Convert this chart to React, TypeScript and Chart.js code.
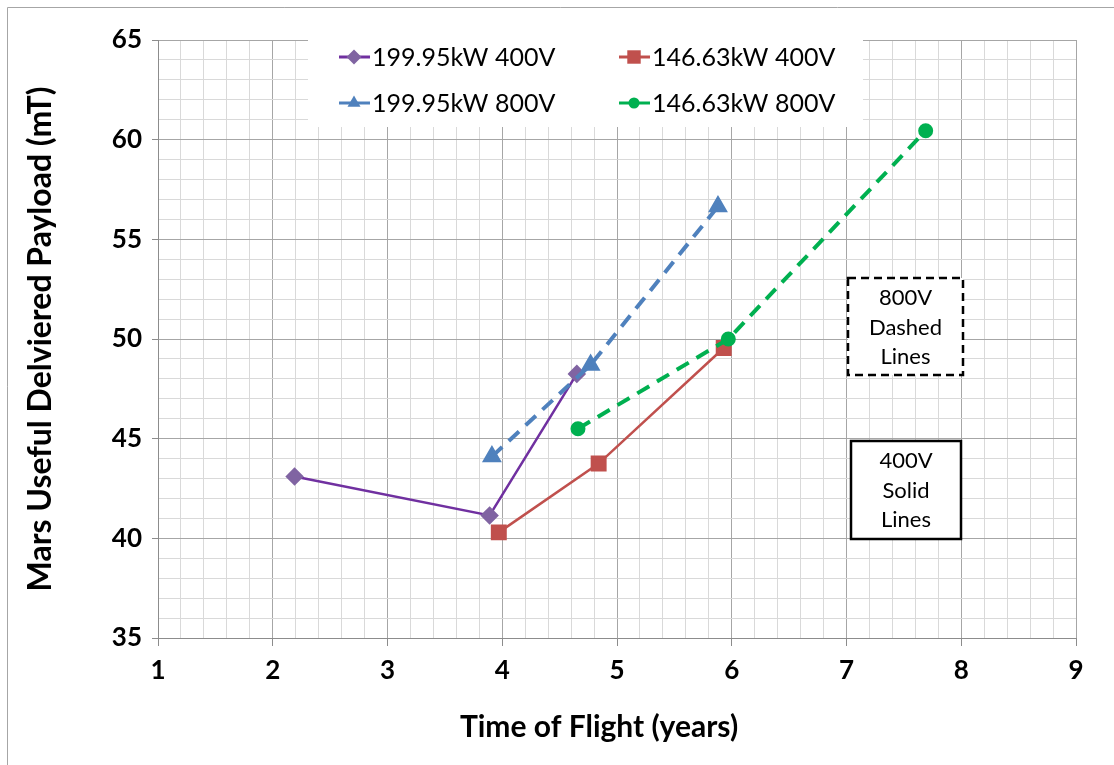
import React, { useEffect, useRef } from 'react';
import { Chart, registerables } from 'chart.js';

Chart.register(...registerables);

// ---- data ----
const seriesLabels = ['199.95kW 400V', '146.63kW 400V', '199.95kW 800V', '146.63kW 800V'];
const s1X = [2.19, 3.89, 4.65];
const s1Y = [43.1, 41.15, 48.25];
const s2X = [3.97, 4.84, 5.93];
const s2Y = [40.3, 43.75, 49.55];
const s3X = [3.91, 4.77, 5.88];
const s3Y = [44.1, 48.7, 56.65];
const s4X = [4.66, 5.97, 7.69];
const s4Y = [45.5, 50.0, 60.45];

const xMajorTicks = [1, 2, 3, 4, 5, 6, 7, 8, 9];
const yMajorTicks = [35, 40, 45, 50, 55, 60, 65];

const xTitle = 'Time of Flight (years)';
const yTitle = 'Mars Useful Delviered Payload (mT)';
const note800 = ['800V', 'Dashed', 'Lines'];
const note400 = ['400V', 'Solid', 'Lines'];

const FONT = 'Lato';

const pts = (xs: number[], ys: number[]) => xs.map((x, i) => ({ x, y: ys[i] }));
const isMajor = (v: number, list: number[]) => list.some((m) => Math.abs(m - v) < 1e-6);

function marker(ctx: CanvasRenderingContext2D, style: string, r: number, x: number, y: number, color: string) {
  ctx.fillStyle = color;
  ctx.beginPath();
  if (style === 'rectRot') {
    ctx.moveTo(x, y - r);
    ctx.lineTo(x + r, y);
    ctx.lineTo(x, y + r);
    ctx.lineTo(x - r, y);
    ctx.closePath();
  } else if (style === 'rect') {
    const s = r * Math.SQRT1_2;
    ctx.rect(x - s, y - s, 2 * s, 2 * s);
  } else if (style === 'triangle') {
    const w = (r * Math.sqrt(3)) / 2;
    ctx.moveTo(x, y - r);
    ctx.lineTo(x + w, y + r / 2);
    ctx.lineTo(x - w, y + r / 2);
    ctx.closePath();
  } else {
    ctx.arc(x, y, r, 0, Math.PI * 2);
  }
  ctx.fill();
}

const decorPlugin = {
  id: 'decor',
  beforeDraw(chart: any) {
    const { ctx, width, height } = chart;
    ctx.save();
    ctx.fillStyle = '#ffffff';
    ctx.fillRect(0, 0, width, height);
    ctx.strokeStyle = '#a6a6a6';
    ctx.lineWidth = 1;
    ctx.beginPath();
    ctx.moveTo(7.5, height);
    ctx.lineTo(7.5, 7.5);
    ctx.lineTo(width, 7.5);
    ctx.stroke();
    ctx.restore();
  },
  afterDatasetsDraw(chart: any) {
    const { ctx } = chart;
    ctx.save();
    // x axis title
    ctx.fillStyle = '#000';
    ctx.font = `bold 30px ${FONT}`;
    ctx.textAlign = 'center';
    ctx.textBaseline = 'middle';
    ctx.fillText(xTitle, 599, 727);

    // legend box
    ctx.fillStyle = '#ffffff';
    ctx.fillRect(308, 36, 555, 91);
    const cols = [354, 634];
    const rows = [57, 103];
    chart.data.datasets.forEach((ds: any, i: number) => {
      const cx = cols[i % 2];
      const cy = rows[Math.floor(i / 2)];
      ctx.strokeStyle = ds.borderColor;
      ctx.lineWidth = 3;
      ctx.setLineDash([]);
      ctx.beginPath();
      ctx.moveTo(cx - 15, cy);
      ctx.lineTo(cx + 16, cy);
      ctx.stroke();
      marker(ctx, ds.pointStyle, ds.pointRadius, cx, cy, ds.pointBackgroundColor);
      ctx.fillStyle = '#000';
      ctx.font = `25px ${FONT}`;
      ctx.textBaseline = 'middle';
      ctx.textAlign = 'left';
      ctx.fillText(ds.label, cx + 18, cy + 1);
    });

    // note boxes
    const drawNote = (x: number, y: number, w: number, h: number, lines: string[], dashed: boolean) => {
      ctx.fillStyle = '#ffffff';
      ctx.fillRect(x, y, w, h);
      ctx.strokeStyle = '#000';
      ctx.lineWidth = 2.5;
      ctx.setLineDash(dashed ? [8, 5] : []);
      ctx.strokeRect(x, y, w, h);
      ctx.setLineDash([]);
      ctx.fillStyle = '#000';
      ctx.font = `22px ${FONT}`;
      ctx.textAlign = 'center';
      ctx.textBaseline = 'middle';
      lines.forEach((t, k) => ctx.fillText(t, x + w / 2, y + 20 + k * 29.5));
    };
    drawNote(848, 278, 115, 97, note800, true);
    drawNote(851, 441, 110, 98, note400, false);
    ctx.restore();
  },
};

export default function App() {
  const ref = useRef<HTMLCanvasElement | null>(null);
  useEffect(() => {
    if (!ref.current) return;
    const chart = new Chart(ref.current, {
      type: 'line',
      data: {
        datasets: [
          {
            label: seriesLabels[0],
            data: pts(s1X, s1Y),
            borderColor: '#7030A0',
            backgroundColor: '#8064A2',
            pointBackgroundColor: '#8064A2',
            pointBorderColor: '#8064A2',
            pointStyle: 'rectRot',
            pointRadius: 7.5,
            borderWidth: 2.5,
            order: 4,
          },
          {
            label: seriesLabels[1],
            data: pts(s2X, s2Y),
            borderColor: '#C0504D',
            backgroundColor: '#C0504D',
            pointBackgroundColor: '#C0504D',
            pointBorderColor: '#C0504D',
            pointStyle: 'rect',
            pointRadius: 9.5,
            borderWidth: 2.5,
            order: 3,
          },
          {
            label: seriesLabels[2],
            data: pts(s3X, s3Y),
            borderColor: '#4F81BD',
            backgroundColor: '#4F81BD',
            pointBackgroundColor: '#4F81BD',
            pointBorderColor: '#4F81BD',
            pointStyle: 'triangle',
            pointRadius: 7.5,
            borderWidth: 4,
            borderDash: [14, 9],
            order: 2,
          },
          {
            label: seriesLabels[3],
            data: pts(s4X, s4Y),
            borderColor: '#00B050',
            backgroundColor: '#00B050',
            pointBackgroundColor: '#00B050',
            pointBorderColor: '#00B050',
            pointStyle: 'circle',
            pointRadius: 5.5,
            borderWidth: 4,
            borderDash: [14, 9],
            order: 1,
          },
        ],
      },
      options: {
        responsive: false,
        animation: false,
        devicePixelRatio: 1,
        layout: { padding: { top: 40, right: 38, left: 0, bottom: 0 } },
        plugins: {
          legend: { display: false },
          tooltip: { enabled: false },
        },
        elements: { line: { tension: 0 } },
        scales: {
          x: {
            type: 'linear',
            min: 1,
            max: 9,
            afterFit: (s: any) => {
              s.height = 127;
            },
            ticks: {
              stepSize: 0.2,
              autoSkip: false,
              maxRotation: 0,
              padding: 9,
              color: '#000',
              font: { family: FONT, size: 26, weight: 'bold' },
              callback: (v: any) => {
                const n = Number(v);
                return isMajor(n, xMajorTicks) ? String(Math.round(n)) : '';
              },
            },
            grid: {
              color: (c: any) => (isMajor(c.tick.value, xMajorTicks) ? '#a6a6a6' : '#d9d9d9'),
              tickColor: (c: any) => (isMajor(c.tick.value, xMajorTicks) ? '#8c8c8c' : 'rgba(0,0,0,0)'),
              tickLength: 8,
              lineWidth: 1,
            },
            border: { display: true, color: '#8c8c8c', width: 1 },
            title: { display: false },
          },
          y: {
            type: 'linear',
            min: 35,
            max: 65,
            afterFit: (s: any) => {
              s.width = 158;
            },
            ticks: {
              stepSize: 1,
              autoSkip: false,
              padding: 10,
              color: '#000',
              font: { family: FONT, size: 26, weight: 'bold' },
              callback: (v: any) => {
                const n = Number(v);
                return isMajor(n, yMajorTicks) ? String(Math.round(n)) : '';
              },
            },
            grid: {
              color: (c: any) => (isMajor(c.tick.value, yMajorTicks) ? '#a6a6a6' : '#d9d9d9'),
              tickColor: (c: any) => (isMajor(c.tick.value, yMajorTicks) ? '#8c8c8c' : 'rgba(0,0,0,0)'),
              tickLength: 6,
              lineWidth: 1,
            },
            border: { display: true, color: '#8c8c8c', width: 1 },
            title: {
              display: true,
              text: yTitle,
              color: '#000',
              font: { family: FONT, size: 32, weight: 'bold' },
              padding: { top: 21, bottom: 0 },
            },
          },
        },
      },
      plugins: [decorPlugin],
    } as any);
    return () => chart.destroy();
  }, []);

  return (
    <div style={{ position: 'absolute', left: 0, top: 0, width: 1114, height: 765 }}>
      <canvas ref={ref} width={1114} height={765} style={{ display: 'block' }} />
    </div>
  );
}
